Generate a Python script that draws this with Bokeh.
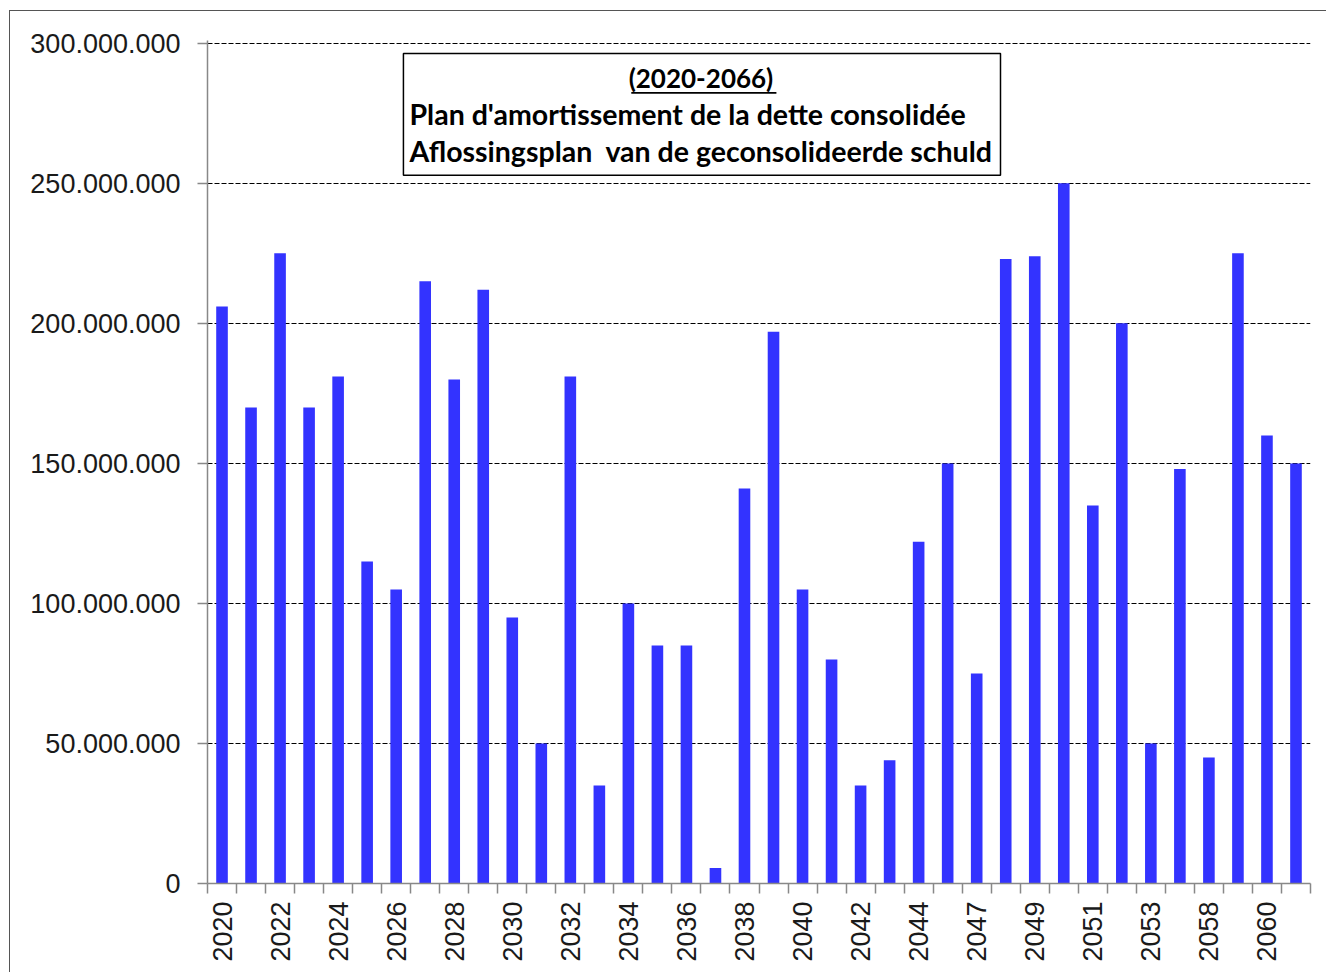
import math
from bokeh.plotting import figure
from bokeh.models import FixedTicker, Label, BoxAnnotation, Range1d
from bokeh.embed import file_html
from bokeh.resources import INLINE

# ---- data ----
years = ["2020", "2021", "2022", "2023", "2024", "2025", "2026", "2027", "2028", "2029",
         "2030", "2031", "2032", "2033", "2034", "2035", "2036", "2037", "2038", "2039",
         "2040", "2041", "2042", "2043", "2044", "2045", "2047", "2048", "2049", "2050",
         "2051", "2052", "2053", "2054", "2058", "2059", "2060", "2061"]
amounts = [206_000_000, 170_000_000, 225_000_000, 170_000_000, 181_000_000, 115_000_000,
           105_000_000, 215_000_000, 180_000_000, 212_000_000, 95_000_000, 50_000_000,
           181_000_000, 35_000_000, 100_000_000, 85_000_000, 85_000_000, 5_500_000,
           141_000_000, 197_000_000, 105_000_000, 80_000_000, 35_000_000, 44_000_000,
           122_000_000, 150_000_000, 75_000_000, 223_000_000, 224_000_000, 250_000_000,
           135_000_000, 200_000_000, 50_000_000, 148_000_000, 45_000_000, 225_000_000,
           160_000_000, 150_000_000]
y_ticks = [0, 50_000_000, 100_000_000, 150_000_000, 200_000_000, 250_000_000, 300_000_000]
title_lines = ["(2020-2066)",
               "Plan d'amortissement de la dette consolidée",
               "Aflossingsplan\u00a0 van de geconsolideerde schuld"]

idx = list(range(len(years)))

p = figure(width=1317, height=962, output_backend="svg", toolbar_location=None,
           x_range=Range1d(-0.5, len(years) - 0.5), y_range=Range1d(0, 301_000_000),
           min_border_left=197, min_border_right=17, min_border_top=29, min_border_bottom=90)
p.styles = {"margin-left": "9px", "margin-top": "10px",
            "border-left": "1px solid #555", "border-top": "1px solid #555"}
p.outline_line_color = None
p.background_fill_color = "white"
p.border_fill_color = "white"

p.vbar(x=idx, top=amounts, width=0.4, color="#3333FF", line_color=None)

# y axis
p.yaxis.ticker = FixedTicker(ticks=y_ticks)
p.yaxis.major_label_overrides = {t: f"{t:,}".replace(",", ".") for t in y_ticks}
p.yaxis.major_label_text_font = "Liberation Sans"
p.yaxis.major_label_text_font_size = "27px"
p.yaxis.major_label_text_color = "#1a1a1a"
p.yaxis.major_label_standoff = 17
p.yaxis.major_tick_out = 10
p.yaxis.major_tick_in = 0
p.yaxis.minor_tick_line_color = None
p.yaxis.axis_line_color = "#888888"
p.yaxis.major_tick_line_color = "#888888"
p.yaxis.axis_line_width = 1.5
p.yaxis.major_tick_line_width = 1.5

# x axis
even = [i for i in idx if i % 2 == 0]
p.xaxis.ticker = FixedTicker(ticks=even, minor_ticks=[i - 0.5 for i in idx] + [len(idx) - 0.5])
p.xaxis.major_label_overrides = {i: years[i] for i in even}
p.xaxis.major_label_orientation = math.pi / 2
p.xaxis.major_label_text_font = "Liberation Sans"
p.xaxis.major_label_text_font_size = "27px"
p.xaxis.major_label_text_color = "#1a1a1a"
p.xaxis.major_label_standoff = 8
p.xaxis.major_tick_out = 0
p.xaxis.major_tick_in = 0
p.xaxis.major_tick_line_color = None
p.xaxis.minor_tick_out = 10
p.xaxis.minor_tick_in = 0
p.xaxis.minor_tick_line_color = "#888888"
p.xaxis.minor_tick_line_width = 1.5
p.xaxis.axis_line_color = "#888888"
p.xaxis.axis_line_width = 1.5

# grid
p.xgrid.grid_line_color = None
p.ygrid.ticker = FixedTicker(ticks=y_ticks[1:])
p.ygrid.grid_line_color = "black"
p.ygrid.grid_line_dash = "5 2"
p.ygrid.grid_line_width = 1

# title box
p.add_layout(BoxAnnotation(left=6.25, right=26.82, top=296.4e6, bottom=252.9e6,
                           fill_color="white", fill_alpha=1.0,
                           line_color="black", line_alpha=1.0, line_width=1.5,
                           level="annotation"))
common = dict(text_font="Lato", text_font_style="bold",
              text_color="black", text_baseline="middle", level="annotation")
p.add_layout(Label(x=16.5, y=287.5e6, text=title_lines[0], text_align="center",
                   text_font_size="26px", **common))
p.add_layout(BoxAnnotation(left=14.1, right=19.1, top=282.6e6, bottom=282.0e6,
                           fill_color="black", fill_alpha=1.0, line_color=None,
                           level="annotation"))
p.add_layout(Label(x=6.46, y=274.6e6, text=title_lines[1], text_align="left",
                   text_font_size="28.5px", **common))
p.add_layout(Label(x=6.46, y=261.4e6, text=title_lines[2], text_align="left",
                   text_font_size="28.5px", **common))

open("out.html", "w").write(file_html(p, INLINE))
